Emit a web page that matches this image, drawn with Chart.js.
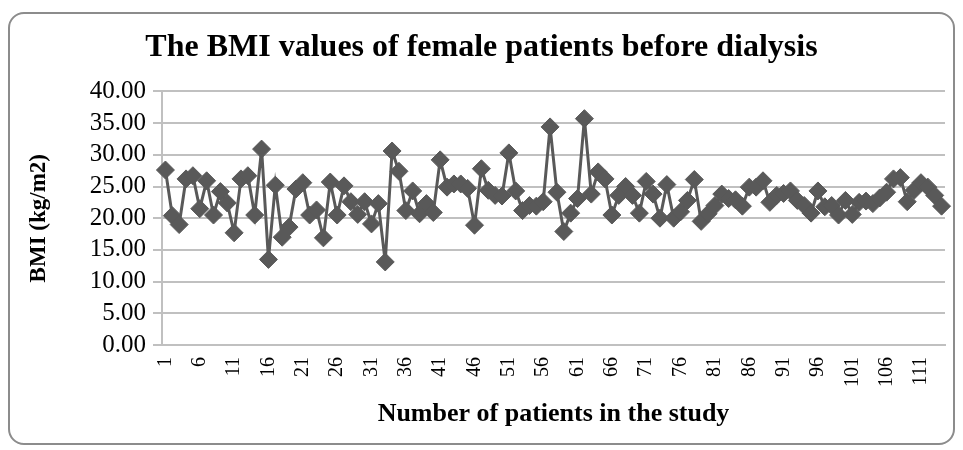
<!DOCTYPE html>
<html lang="en">
<head>
<meta charset="UTF-8">
<title>BMI female patients</title>
<script src="https://cdn.jsdelivr.net/npm/chart.js"></script>
<style>
  body { margin: 0; background: #fff; }
  #wrap { position: relative; width: 963px; height: 450px; }
  #frame { position: absolute; left: 8px; top: 12px; width: 943px; height: 429px;
           border: 2px solid #8c8c8c; border-radius: 16px; }
  #myChart { position: absolute; left: 0; top: 0; }
</style>
</head>
<body>
<div id="wrap">
  <div id="frame"></div>
  <canvas id="myChart" width="963" height="450"></canvas>
</div>
<script>
// patient numbers on the x axis
const patients = Array.from({ length: 114 }, (_, i) => i + 1);

// BMI values (kg/m2)
const bmiValues = [
  27.6, 20.4, 19.0, 26.2, 26.7, 21.5, 25.9, 20.5, 24.2, 22.4,
  17.7, 26.2, 26.7, 20.5, 30.9, 13.5, 25.2, 17.0, 18.6, 24.6,
  25.6, 20.5, 21.3, 16.9, 25.7, 20.5, 25.1, 22.6, 20.6, 22.6,
  19.1, 22.3, 13.1, 30.6, 27.4, 21.2, 24.3, 20.7, 22.3, 20.9,
  29.2, 24.9, 25.4, 25.4, 24.7, 18.9, 27.8, 24.4, 23.6, 23.5,
  30.3, 24.3, 21.2, 22.0, 21.9, 22.6, 34.4, 24.1, 17.9, 20.8,
  23.1, 35.7, 23.8, 27.3, 26.2, 20.5, 23.6, 25.0, 23.6, 20.8,
  25.8, 23.8, 20.0, 25.3, 20.0, 21.0, 22.8, 26.1, 19.5, 20.7,
  22.0, 23.8, 23.1, 22.9, 21.9, 24.9, 24.9, 25.9, 22.5, 23.6,
  23.9, 24.3, 22.8, 22.0, 20.8, 24.3, 21.8, 22.0, 20.5, 22.8,
  20.6, 22.5, 22.7, 22.3, 23.2, 24.1, 26.2, 26.4, 22.6, 24.4,
  25.6, 24.9, 23.6, 21.9
];

const yTicks = [0, 5, 10, 15, 20, 25, 30, 35, 40];

const chartTitle = 'The BMI values of female patients before dialysis';
const xTitle = 'Number of patients in the study';
const yTitle = 'BMI (kg/m2)';

const gridGray = '#c0c0c0';
const lineGray = '#595959';

const ctx = document.getElementById('myChart').getContext('2d');

const myChart = new Chart(ctx, {
  type: 'line',
  data: {
    labels: patients,
    datasets: [{
      label: 'BMI',
      data: bmiValues,
      borderColor: lineGray,
      backgroundColor: lineGray,
      borderWidth: 3,
      tension: 0,
      pointStyle: 'rectRot',
      pointRadius: 9,
      pointBorderWidth: 1,
      pointBackgroundColor: lineGray,
      pointBorderColor: lineGray
    }]
  },
  options: {
    responsive: false,
    animation: false,
    layout: { padding: { left: 18, right: 18, top: 0, bottom: 0 } },
    plugins: {
      legend: { display: false },
      tooltip: { enabled: false },
      title: {
        display: true,
        text: chartTitle,
        color: '#000',
        font: { family: 'Liberation Serif', size: 32, weight: 'bold' },
        padding: { top: 29, bottom: 24 }
      }
    },
    scales: {
      x: {
        type: 'category',
        offset: true,
        grid: { display: false, drawTicks: false },
        border: { display: true, color: gridGray, width: 2 },
        ticks: {
          autoSkip: false,
          minRotation: 90,
          maxRotation: 90,
          padding: 12,
          color: '#000',
          font: { family: 'Liberation Serif', size: 20 },
          callback: function (val, index) {
            return index % 5 === 0 ? String(patients[index]) : '';
          }
        },
        title: {
          display: true,
          text: xTitle,
          color: '#000',
          font: { family: 'Liberation Serif', size: 26, weight: 'bold' },
          padding: { top: 0, bottom: 20 }
        },
        afterFit: function (scale) {
          scale.height = 105;
          scale.paddingRight = 0; // plot runs up to the layout padding
        }
      },
      y: {
        min: 0,
        max: 40,
        afterBuildTicks: function (scale) {
          scale.ticks = yTicks.map(v => ({ value: v }));
        },
        grid: { color: gridGray, lineWidth: 2, tickLength: 9 },
        border: { display: true, color: gridGray, width: 2 },
        ticks: {
          autoSkip: false,
          padding: 7,
          color: '#000',
          font: { family: 'Liberation Serif', size: 25 },
          callback: function (v) { return Number(v).toFixed(2); }
        },
        title: {
          display: true,
          text: yTitle,
          color: '#000',
          font: { family: 'Liberation Serif', size: 23, weight: 'bold' },
          padding: { top: 7, bottom: 0 }
        },
        afterFit: function (scale) { scale.width = 144; }
      }
    }
  }
});
</script>
</body>
</html>
